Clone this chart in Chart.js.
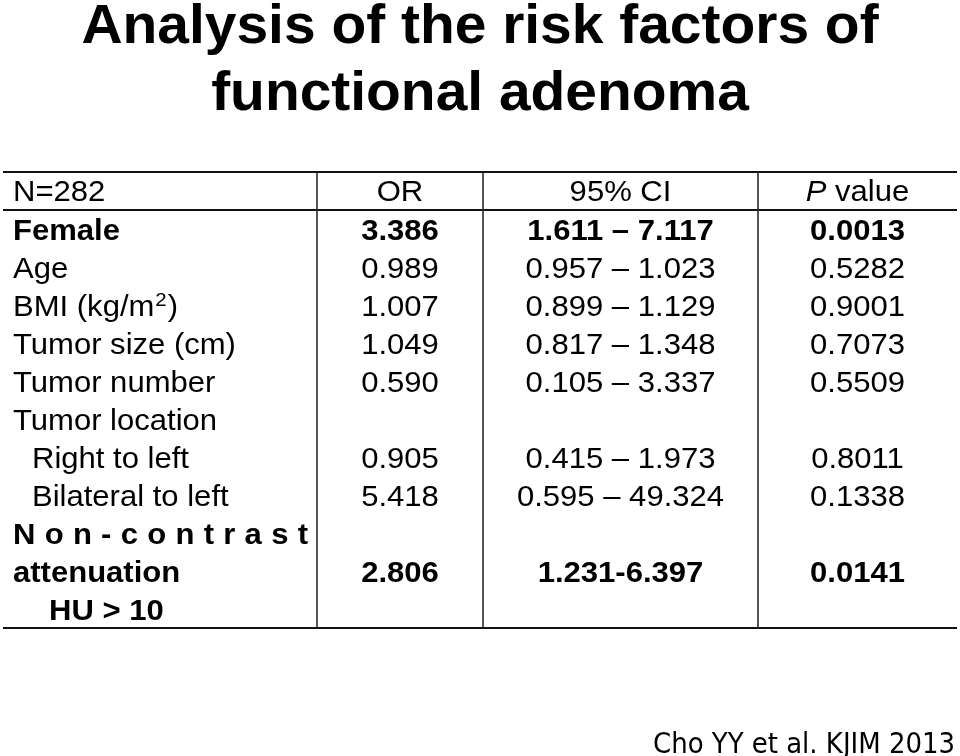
<!DOCTYPE html>
<html>
<head>
<meta charset="utf-8">
<script src="https://cdn.jsdelivr.net/npm/chart.js@4/dist/chart.umd.min.js"></script>
<style>
  html, body { margin: 0; padding: 0; background: #ffffff; }
  canvas { display: block; }
</style>
</head>
<body>
<canvas id="c" width="960" height="756"></canvas>
<script>
// ---------- data ----------
const titleLines = ['Analysis of the risk factors of', 'functional adenoma'];
const headerLabel = 'N=282';
const headerOR = 'OR';
const headerCI = '95% CI';
const headerP = ['P', ' value'];
const factors = ['Female', 'Age', 'BMI (kg/m²)', 'Tumor size (cm)', 'Tumor number',
  'Tumor location', 'Right to left', 'Bilateral to left', 'Non-contrast', 'attenuation', 'HU > 10'];
const oddsRatios = ['3.386', '0.989', '1.007', '1.049', '0.590', '', '0.905', '5.418', '', '2.806', ''];
const ciLower = ['1.611', '0.957', '0.899', '0.817', '0.105', '', '0.415', '0.595', '', '1.231', ''];
const ciUpper = ['7.117', '1.023', '1.129', '1.348', '3.337', '', '1.973', '49.324', '', '6.397', ''];
const pValues = ['0.0013', '0.5282', '0.9001', '0.7073', '0.5509', '', '0.8011', '0.1338', '', '0.0141', ''];
const sourceNote = 'Cho YY et al. KJIM 2013';

// ---------- layout / style (not data) ----------
const colEdges = [0, 314, 480, 755, 954];
const boldRows = [0, 8, 9, 10];
const hyphenRows = [9];
const spacedRows = [8];
const indents = { 6: 19, 7: 19, 10: 36 };
const FONT = '"Liberation Sans", Arial, sans-serif';
const BODY_SIZE = 29;
const SX = 1.07;
const TEXT_DY = 3;

const rowKeys = ['header'].concat(factors);

function measure(ctx, s, font) {
  ctx.save();
  ctx.font = font;
  const w = ctx.measureText(s).width;
  ctx.restore();
  return w;
}

function drawText(ctx, s, px, py, font, align, sx, baseline) {
  ctx.save();
  ctx.font = font;
  ctx.textBaseline = baseline || 'middle';
  ctx.textAlign = 'left';
  const w = ctx.measureText(s).width * sx;
  let left = px;
  if (align === 'center') left = px - w / 2;
  else if (align === 'right') left = px - w;
  ctx.translate(left, py);
  ctx.scale(sx, 1);
  ctx.fillText(s, 0, 0);
  ctx.restore();
  return w;
}

const tablePlugin = {
  id: 'tablePlugin',
  beforeDraw(chart) {
    const ctx = chart.ctx;
    ctx.save();
    ctx.fillStyle = '#ffffff';
    ctx.fillRect(0, 0, chart.width, chart.height);
    ctx.restore();
  },
  afterDraw(chart) {
    const ctx = chart.ctx;
    const ca = chart.chartArea;
    const xs = chart.scales.x, ys = chart.scales.y;
    const colX = colEdges.map(v => xs.getPixelForValue(v));
    const rowH = ys.getPixelForValue(1) - ys.getPixelForValue(0);
    const rowC = i => ys.getPixelForValue(i) + TEXT_DY;
    const colC = j => (colX[j] + colX[j + 1]) / 2;

    ctx.fillStyle = '#000000';

    // title
    titleLines.forEach((t, i) => {
      drawText(ctx, t, chart.width / 2, 43 + i * 67, 'bold 55px ' + FONT, 'center', 1.035, 'alphabetic');
    });

    // grid lines
    ctx.save();
    ctx.strokeStyle = '#111111';
    ctx.lineWidth = 2;
    [ca.top, ys.getPixelForValue(0) + rowH / 2, ca.bottom].forEach(yy => {
      ctx.beginPath();
      ctx.moveTo(colX[0], yy);
      ctx.lineTo(colX[4], yy);
      ctx.stroke();
    });
    ctx.strokeStyle = '#2a2a2a';
    ctx.lineWidth = 1.6;
    [1, 2, 3].forEach(j => {
      ctx.beginPath();
      ctx.moveTo(colX[j], ca.top);
      ctx.lineTo(colX[j], ca.bottom);
      ctx.stroke();
    });
    ctx.restore();

    const reg = BODY_SIZE + 'px ' + FONT;
    const bold = 'bold ' + BODY_SIZE + 'px ' + FONT;

    // header
    const hy = rowC(0) - 1;
    drawText(ctx, headerLabel, colX[0] + 10, hy, reg, 'left', SX);
    drawText(ctx, headerOR, colC(1), hy, reg, 'center', SX);
    drawText(ctx, headerCI, colC(2), hy, reg, 'center', SX);
    const wp = measure(ctx, headerP[0], 'italic ' + reg) * SX;
    const wv = measure(ctx, headerP[1], reg) * SX;
    const pLeft = colC(3) - (wp + wv) / 2;
    drawText(ctx, headerP[0], pLeft, hy, 'italic ' + reg, 'left', SX);
    drawText(ctx, headerP[1], pLeft + wp, hy, reg, 'left', SX);

    // body rows
    factors.forEach((name, i) => {
      const yy = rowC(i + 1);
      const isBold = boldRows.includes(i);
      const f = isBold ? bold : reg;
      const lx = colX[0] + 10 + (indents[i] || 0);
      if (spacedRows.includes(i)) {
        const chars = name.split('');
        const widths = chars.map(c => measure(ctx, c, f) * SX);
        const total = widths.reduce((a, b) => a + b, 0);
        const span = colX[1] - 9 - lx;
        const gap = (span - total) / (chars.length - 1);
        let cx = lx;
        chars.forEach((c, k) => {
          drawText(ctx, c, cx, yy, f, 'left', SX);
          cx += widths[k] + gap;
        });
      } else if (name.includes('²')) {
        const parts = name.split('²');
        let cx = lx;
        cx += drawText(ctx, parts[0], cx, yy, f, 'left', SX);
        cx += 1;
        const supF = (isBold ? 'bold ' : '') + '19px ' + FONT;
        cx += drawText(ctx, '2', cx, yy - 7, supF, 'left', SX);
        cx += 1;
        drawText(ctx, parts[1], cx, yy, f, 'left', SX);
      } else {
        drawText(ctx, name, lx, yy, f, 'left', SX);
      }
      if (oddsRatios[i]) drawText(ctx, oddsRatios[i], colC(1), yy, f, 'center', SX);
      if (ciLower[i]) {
        const sep = hyphenRows.includes(i) ? '-' : ' – ';
        drawText(ctx, ciLower[i] + sep + ciUpper[i], colC(2), yy, f, 'center', SX);
      }
      if (pValues[i]) drawText(ctx, pValues[i], colC(3), yy, f, 'center', SX);
    });

    // source note
    const nf = '29px "DejaVu Sans Condensed", "DejaVu Sans", sans-serif';
    const nw = measure(ctx, sourceNote, nf);
    drawText(ctx, sourceNote, 955, 753, nf, 'right', 302 / nw, 'alphabetic');
  }
};

new Chart(document.getElementById('c'), {
  type: 'scatter',
  data: { labels: rowKeys, datasets: [] },
  options: {
    responsive: false,
    animation: false,
    devicePixelRatio: 1,
    layout: { padding: { left: 3, right: 3, top: 172, bottom: 128 } },
    scales: {
      x: { type: 'linear', min: colEdges[0], max: colEdges[colEdges.length - 1], display: false },
      y: { type: 'category', labels: rowKeys, offset: true, display: false }
    },
    plugins: { legend: { display: false }, tooltip: { enabled: false }, title: { display: false } }
  },
  plugins: [tablePlugin]
});
</script>
</body>
</html>
